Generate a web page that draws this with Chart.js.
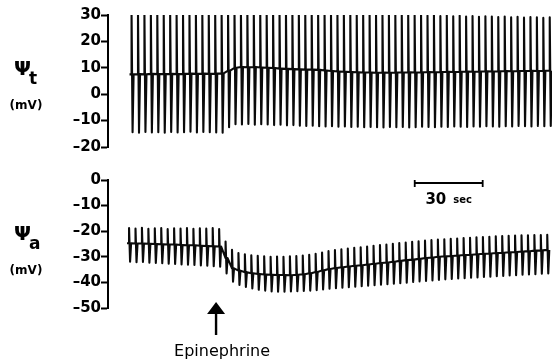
<!DOCTYPE html>
<html>
<head>
<meta charset="utf-8">
<script src="https://cdn.jsdelivr.net/npm/chart.js@4.4.1/dist/chart.umd.min.js"></script>
<style>
  html, body { margin: 0; padding: 0; background: #fff; }
  #wrap { position: relative; width: 552px; height: 364px; }
  #wrap canvas { position: absolute; left: 0; top: 0; }
</style>
</head>
<body>
<div id="wrap">
  <canvas id="tChart" width="552" height="364"></canvas>
  <canvas id="aChart" width="552" height="364"></canvas>
</div>
<script>
// one pulse every ~2.84 s, times in seconds from the left axis
const cycleSec = 2.84;
const tStartT = 10.4;
const tStartA = 9.3;
const epiTime = 47.7;
const scaleBarStart = 135.4;
const scaleBarSec = 30;
const timeMax = 196;

const tTicks = [-20, -10, 0, 10, 20, 30];
const aTicks = [-50, -40, -30, -20, -10, 0];

// Psi t (mV), per pulse
const tPeak = [
  30.6, 30.8, 30.5, 30.7, 30.6, 30.4, 30.7, 30.6, 30.5, 30.8, 30.6, 30.5, 30.7, 30.6, 30.4,
  31.2, 31.7, 31.6, 31.8, 31.5, 31.6, 31.4, 31.5, 31.2, 31.3, 31.0,
  31.1, 30.8, 30.9, 30.6, 30.7, 30.4, 30.5, 30.3, 30.4, 30.2, 30.3, 30.0, 30.2, 30.1, 30.0,
  30.2, 29.9, 30.1, 29.8, 30.0, 29.7, 29.9, 29.6, 29.8, 29.5, 29.7, 29.4, 29.6, 29.3, 29.5,
  29.4, 29.2, 29.4, 29.1, 29.3, 29.0, 29.2, 29.1, 28.9, 29.1
];
const tBase = [
  7.5, 7.6, 7.5, 7.7, 7.6, 7.6, 7.7, 7.6, 7.7, 7.8, 7.7, 7.8, 7.7, 7.8, 7.9,
  8.9, 10.0, 10.3, 10.2, 10.3, 10.1, 10.0, 9.9, 9.7, 9.6, 9.5,
  9.4, 9.3, 9.3, 9.2, 9.0, 8.8, 8.6, 8.5, 8.4, 8.3, 8.2, 8.2, 8.1, 8.2, 8.1,
  8.2, 8.2, 8.3, 8.2, 8.3, 8.4, 8.3, 8.4, 8.5, 8.4, 8.5, 8.6, 8.5, 8.6, 8.7,
  8.6, 8.7, 8.8, 8.7, 8.8, 8.8, 8.9, 8.8, 8.9, 8.9
];
const tTrough = [
  -14.4, -14.6, -14.3, -14.5, -14.4, -14.6, -14.3, -14.5, -14.4, -14.2, -14.5, -14.3, -14.4, -14.5, -14.6,
  -12.5, -11.4, -11.5, -11.3, -11.6, -11.4, -11.5, -11.7, -11.6, -11.8, -11.7,
  -11.9, -12.0, -11.9, -12.1, -12.2, -12.1, -12.3, -12.2, -12.4, -12.3, -12.5, -12.4, -12.5, -12.6, -12.4,
  -12.5, -12.4, -12.6, -12.5, -12.3, -12.4, -12.5, -12.3, -12.4, -12.2, -12.3, -12.4, -12.2, -12.3, -12.1,
  -12.2, -12.3, -12.1, -12.2, -12.0, -12.1, -12.2, -12.0, -12.1, -12.0
];

// Psi a (mV), per pulse
const aPeak = [
  -18.8, -19.0, -18.7, -19.1, -18.9, -18.8, -19.2, -18.9, -19.0, -18.8, -19.1, -18.9, -19.0, -18.8, -19.2,
  -24.0, -27.3, -28.5, -29.0, -29.4, -29.6, -29.8, -30.0, -29.9, -30.0, -29.8, -29.7, -29.5,
  -29.2, -28.8, -28.3, -27.8,
  -27.4, -27.1, -26.8, -26.5, -26.3, -26.0, -25.7, -25.4, -25.2, -24.9, -24.6, -24.4, -24.1, -23.9, -23.7, -23.5, -23.3,
  -23.2, -23.0, -22.9, -22.7, -22.6, -22.4, -22.3, -22.2, -22.0, -21.9, -21.8, -21.7, -21.6, -21.6, -21.5, -21.5, -21.4
];
const aBase = [
  -24.7, -24.8, -24.8, -24.9, -25.0, -25.1, -25.2, -25.2, -25.4, -25.5, -25.5, -25.7, -25.8, -25.9, -26.0,
  -30.5, -34.5, -35.4, -36.0, -36.4, -36.7, -36.9, -37.0, -37.1, -37.1, -37.2, -37.0, -36.8,
  -36.4, -35.9, -35.3, -34.8,
  -34.4, -34.1, -33.8, -33.5, -33.3, -33.0, -32.7, -32.4, -32.2, -31.9, -31.6, -31.3, -31.1, -30.8, -30.5, -30.3, -30.0,
  -29.8, -29.7, -29.5, -29.3, -29.2, -29.0, -28.8, -28.7, -28.5, -28.4, -28.2, -28.1, -27.9, -27.8, -27.6, -27.5, -27.3
];
const aTrough = [
  -31.9, -32.1, -32.0, -32.3, -32.4, -32.5, -32.7, -32.8, -33.0, -33.1, -33.2, -33.4, -33.5, -33.7, -33.9,
  -36.5, -39.7, -41.0, -41.8, -42.4, -42.9, -43.2, -43.5, -43.6, -43.6, -43.5, -43.4, -43.3,
  -43.2, -43.0, -42.8, -42.5,
  -42.3, -42.1, -41.9, -41.7, -41.5, -41.3, -41.1, -40.9, -40.7, -40.5, -40.3, -40.1, -39.8, -39.6, -39.4, -39.2, -39.0,
  -38.8, -38.7, -38.5, -38.4, -38.2, -38.1, -37.9, -37.8, -37.6, -37.5, -37.3, -37.2, -37.0, -36.9, -36.8, -36.6, -36.5
];

// each pulse: up to the peak, down to the trough, back to the baseline
function buildTrace(t0, peak, base, trough) {
  const pts = [{ x: t0 - 0.9, y: base[0] }];
  base.forEach((b, i) => {
    const t = t0 + i * cycleSec;
    pts.push({ x: t, y: b }, { x: t, y: peak[i] }, { x: t + 0.45, y: trough[i] }, { x: t + 0.9, y: b });
  });
  return pts;
}

const INK = '#0a0a0a';
const dash = v => (v < 0 ? '\u2013' + Math.abs(v) : String(v));

function panelOptions(ticks, padTop, padBottom) {
  return {
    responsive: false,
    animation: false,
    devicePixelRatio: 1,
    layout: { padding: { top: padTop, bottom: padBottom, left: 0, right: 0 } },
    plugins: { legend: { display: false }, tooltip: { enabled: false } },
    scales: {
      x: { type: 'linear', min: 0, max: timeMax, display: false },
      y: {
        min: ticks[0],
        max: ticks[ticks.length - 1],
        afterFit: s => { s.width = 108; },
        afterBuildTicks: s => { s.ticks = ticks.map(v => ({ value: v })); },
        border: { display: true, color: '#000', width: 2 },
        grid: { display: true, drawOnChartArea: false, drawTicks: true, tickLength: 7, tickWidth: 2, tickColor: '#000' },
        ticks: {
          color: '#000',
          padding: 0,
          font: { family: 'DejaVu Sans', weight: 'bold', size: 15 },
          callback: v => dash(v)
        }
      }
    }
  };
}

function traceDataset(points) {
  return {
    data: points,
    borderColor: INK,
    borderWidth: 2.1,
    borderJoinStyle: 'round',
    pointRadius: 0,
    tension: 0,
    fill: false
  };
}

// "Psi" with its subscript and the unit, left of the axis
function axisTitle(sub) {
  return {
    id: 'axisTitle',
    afterDraw(chart) {
      const { ctx, chartArea } = chart;
      const cy = chartArea.top + 55;
      ctx.save();
      ctx.fillStyle = '#000';
      ctx.textBaseline = 'middle';
      ctx.textAlign = 'left';
      ctx.font = 'bold 20px "DejaVu Sans"';
      ctx.fillText('\u03A8', 14, cy);
      ctx.font = 'bold 17px "DejaVu Sans"';
      ctx.textBaseline = 'alphabetic';
      ctx.fillText(sub, 29, cy + 14);
      ctx.font = 'bold 12px "DejaVu Sans"';
      ctx.textAlign = 'center';
      ctx.textBaseline = 'middle';
      ctx.fillText('(mV)', 26, chartArea.top + 91);
      ctx.restore();
    }
  };
}

// 30 s time bar and the epinephrine arrow
const marks = {
  id: 'marks',
  afterDraw(chart) {
    const { ctx, chartArea } = chart;
    const xs = chart.scales.x;
    ctx.save();
    ctx.strokeStyle = '#000';
    ctx.fillStyle = '#000';

    const x0 = xs.getPixelForValue(scaleBarStart);
    const x1 = xs.getPixelForValue(scaleBarStart + scaleBarSec);
    const by = chartArea.top + 3;
    ctx.lineWidth = 1.8;
    ctx.beginPath();
    ctx.moveTo(x0, by); ctx.lineTo(x1, by);
    ctx.moveTo(x0, by - 3); ctx.lineTo(x0, by + 4);
    ctx.moveTo(x1, by - 3); ctx.lineTo(x1, by + 4);
    ctx.stroke();

    const mid = (x0 + x1) / 2;
    ctx.textBaseline = 'alphabetic';
    ctx.textAlign = 'left';
    ctx.font = 'bold 15px "DejaVu Sans"';
    const w30 = ctx.measureText('30').width;
    ctx.font = 'bold 10px "DejaVu Sans"';
    const wSec = ctx.measureText('sec').width;
    const gap = 7;
    const sx = mid - (w30 + gap + wSec) / 2;
    ctx.font = 'bold 15px "DejaVu Sans"';
    ctx.fillText('30', sx, by + 21);
    ctx.font = 'bold 10px "DejaVu Sans"';
    ctx.fillText('sec', sx + w30 + gap, by + 20);

    const ax = xs.getPixelForValue(epiTime);
    const tip = chartArea.bottom - 6;
    ctx.beginPath();
    ctx.moveTo(ax, tip);
    ctx.lineTo(ax - 9, tip + 12);
    ctx.lineTo(ax + 9, tip + 12);
    ctx.closePath();
    ctx.fill();
    ctx.lineWidth = 2.4;
    ctx.beginPath();
    ctx.moveTo(ax, tip + 10);
    ctx.lineTo(ax, tip + 33);
    ctx.stroke();

    ctx.font = '16px "DejaVu Sans"';
    ctx.textAlign = 'center';
    ctx.fillText('Epinephrine', ax + 6, tip + 54);
    ctx.restore();
  }
};

new Chart(document.getElementById('aChart'), {
  type: 'line',
  data: { datasets: [traceDataset(buildTrace(tStartA, aPeak, aBase, aTrough))] },
  options: panelOptions(aTicks, 180, 56),
  plugins: [axisTitle('a'), marks]
});

new Chart(document.getElementById('tChart'), {
  type: 'line',
  data: { datasets: [traceDataset(buildTrace(tStartT, tPeak, tBase, tTrough))] },
  options: panelOptions(tTicks, 15, 217),
  plugins: [axisTitle('t')]
});
</script>
</body>
</html>
